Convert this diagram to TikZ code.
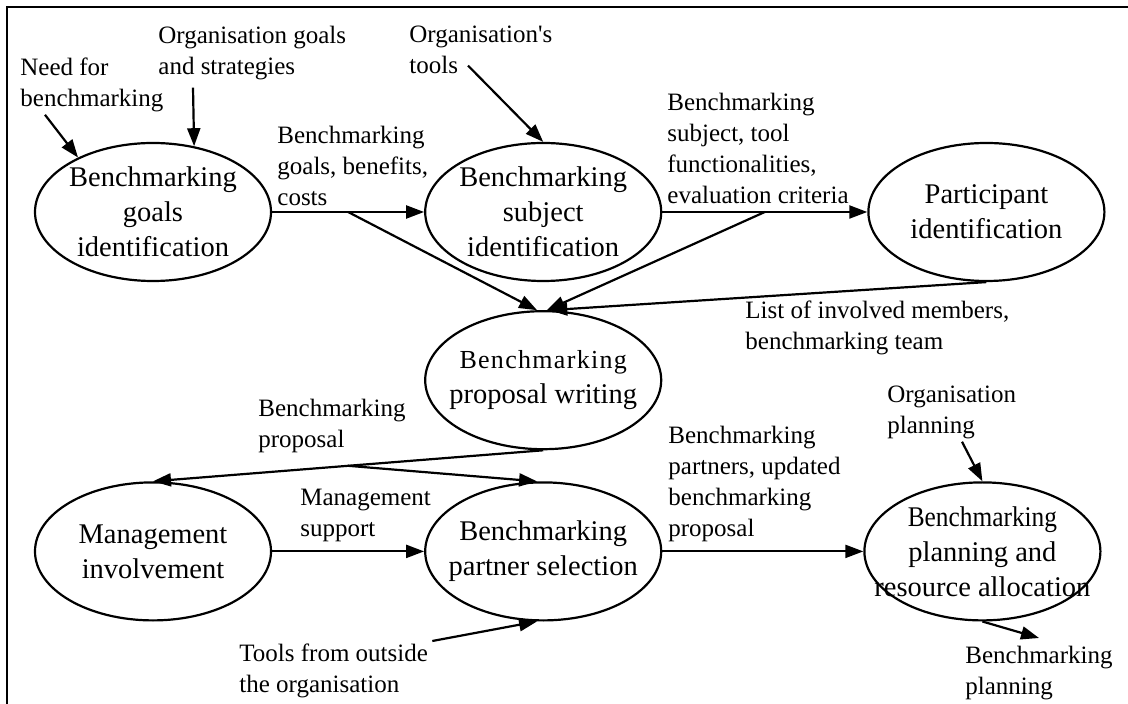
\documentclass[tikz,border=0pt]{standalone}
\usepackage{fontspec}
\setmainfont{Liberation Serif}
\usetikzlibrary{arrows.meta, calc, positioning, shapes.geometric}

\newcommand{\lsp}[1]{{\fontsize{13}{17.5}\selectfont\addfontfeature{LetterSpace=5}#1}}
\newcommand{\cond}[1]{\scalebox{0.89}[1]{#1}}

\begin{document}
\begin{tikzpicture}[x=0.5pt, y=-0.5pt,
proc/.style = {draw, ellipse, line width=1.1pt, inner sep=0pt,
               minimum width=118pt, minimum height=69pt,
               label={[proc_txt]center:#1}},
proc_txt/.style = {align=center, font=\fontsize{14.25}{17.5}\selectfont},
lbl/.style = {anchor=north west, inner sep=0pt, align=left,
              font=\fontsize{12.5}{15.5}\selectfont},
flow/.style = {line width=1.1pt, -{Triangle[length=9pt, width=6.5pt]}},
                    ]
%---
\useasboundingbox (0,0) rectangle (1128,704);
\draw[line width=1.4pt] (7,704) -- (7,7) -- (1128,7);

\node (goals_id) [proc={Benchmarking\\goals\\identification}] at (153,212) {};
\node (subj_id) [proc={Benchmarking\\subject\\identification}, right=76pt of goals_id] {};
\node (part_id) [proc={Participant\\identification}, right=102.5pt of subj_id] {};
\node (prop_wr) [proc={\lsp{Benchmarking}\\proposal writing}, below=14pt of subj_id] {};
\node (partn_sel) [proc={Benchmarking\\partner selection}, below=15.5pt of prop_wr] {};
\node (mgmt_inv) [proc={Management\\involvement}, left=76pt of partn_sel] {};
\node (plan_res) [proc={\cond{Benchmarking}\\planning and\\resource allocation}, right=100.5pt of partn_sel] {};

\node (l_need) [lbl] at (20,58) {Need for\\benchmarking};
\node (l_orggoals) [lbl] at (158,26) {Organisation goals\\and strategies};
\node (l_orgtools) [lbl] at (409,26) {Organisation\textquotesingle s\\tools};
\node (l_goals) [lbl] at (277,126) {Benchmarking\\goals, benefits,\\costs};
\node (l_subj) [lbl] at (667,93) {Benchmarking\\subject, tool\\functionalities,\\evaluation criteria};
\node (l_members) [lbl] at (745,301) {List of involved members,\\benchmarking team};
\node (l_prop) [lbl] at (258,399) {Benchmarking\\proposal};
\node (l_support) [lbl] at (300,489) {Management\\support};
\node (l_tools) [lbl] at (239,643) {Tools from outside\\the organisation};
\node (l_partners) [lbl] at (668,426) {Benchmarking\\partners, updated\\benchmarking\\proposal};
\node (l_orgplan) [lbl] at (887,386) {Organisation\\planning};
\node (l_planout) [lbl] at (965,646) {Benchmarking\\planning};

\coordinate (b_goals) at ($(goals_id.east)!0.5!(subj_id.west)$);
\coordinate (b_subj) at ($(subj_id.east)!0.5!(part_id.west)$);
\coordinate (b_prop) at ($(prop_wr.south)!0.5!(mgmt_inv.north)$);

\path[flow]
        ([xshift=12.5pt,yshift=-1pt]l_need.south west) edge (goals_id.144)
        ([xshift=17.5pt,yshift=-3.5pt]l_orggoals.south west) edge (goals_id.58)
        ([xshift=29.5pt,yshift=4.5pt]l_orgtools.south west) edge (subj_id.north)
        (goals_id) edge (subj_id)
        (b_goals) edge (prop_wr.95)
        (subj_id) edge (part_id)
        (b_subj) edge (prop_wr.87)
        (part_id.south) edge (prop_wr.85);

\draw[line width=1.1pt] (prop_wr.south) -- (b_prop);
\path[flow]
        (b_prop) edge (mgmt_inv.north)
        (b_prop) edge (partn_sel.95)
        (mgmt_inv) edge (partn_sel)
        ([xshift=2pt,yshift=1pt]l_tools.north east) edge (partn_sel.265)
        (partn_sel) edge (plan_res)
        ([xshift=37.5pt,yshift=-1pt]l_orgplan.south west) edge (plan_res.north)
        (plan_res.south) edge ([yshift=4pt]l_planout.north);

\end{tikzpicture}
\end{document}
